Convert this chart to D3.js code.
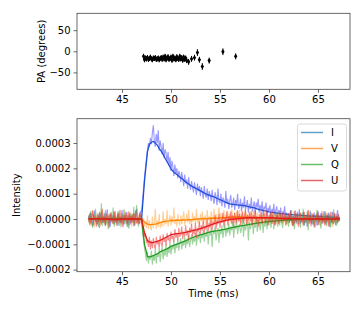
<!DOCTYPE html>
<html><head><meta charset="utf-8">
<script src="https://cdn.jsdelivr.net/npm/d3@7"></script>
<style>body{margin:0;background:#fff}svg{display:block}text{font-family:"DejaVu Sans",sans-serif}</style>
</head><body><svg id="c" width="364" height="312"></svg>
<script>
// ---------- DATA ----------
const seriesNames = ["I", "V", "Q", "U"];
const xTicks = [45, 50, 55, 60, 65];
const paTicks = [-50, 0, 50];
const intTicks = [-200, -100, 0, 100, 200, 300]; // units of 1e-6
const intTickLabels = ["\u22120.0002", "\u22120.0001", "0.0000", "0.0001", "0.0002", "0.0003"];

// PA points (ms, degrees, error)
const paTime = [47.2,47.3,47.4,47.5,47.6,47.7,47.8,47.9,48.0,48.1,48.2,48.3,48.4,48.5,48.6,48.7,48.8,48.9,49.0,49.1,49.2,49.3,49.4,49.5,49.6,49.7,49.8,49.9,50.0,50.1,50.2,50.3,50.4,50.5,50.6,50.7,50.8,50.9,51.0,51.1,51.2,51.3,51.4,51.5,51.6,
  51.8,52.1,52.4,52.7,52.9,53.2,53.9,55.3,56.6];
const paValue = [-12,-20,-16,-18,-15,-19,-17,-14,-18,-20,-16,-17,-15,-19,-18,-16,-20,-17,-15,-19,-14,-18,-12,-20,-16,-13,-19,-17,-14,-21,-12,-18,-16,-20,-13,-17,-19,-12,-18,-15,-21,-14,-19,-16,-22,
  -25,-18,-15,-3,-20,-36,-22,-1,-12];
const paErr = [6,6,6,6,6,6,6,6,6,6,6,6,6,6,6,6,6,6,6,6,6,6,6,6,6,6,6,6,6,6,6,6,6,6,6,6,6,6,6,6,6,6,6,6,6,
  7,7,7,8,7,8,7,8,7];

// raw traces: sampled every 0.1 ms from 41.6 ms (units 1e-6)
const rawStart = 41.6, rawStep = 0.1;
const rawI = [
  12,-18,25,-6,-28,15,33,-10,4,-22, 18,-35,8,27,-14,-3,22,-25,10,38, -16,5,-30,20,-8,14,-20,30,-12,2,
  25,-27,9,-15,35,-5,-22,16,-10,28, -32,6,19,-18,11,-7,24,-26,14,40, -12,8,-20,30,
  30,75,120,165,205,240,275,300,285,320, 295,340,370,310,285,335,300,350,270,310,
  285,255,300,240,275,260,225,265,210,245, 190,230,205,170,215,180,200,160,190,175,
  145,185,160,130,175,140,155,120,165,135, 115,150,125,105,145,120,95,140,110,130,
  90,125,105,80,130,95,85,120,75,110, 95,70,115,80,60,105,90,55,120,70,
  65,100,50,85,75,45,110,60,80,40, 70,95,45,60,85,35,75,55,100,40,
  50,80,30,65,45,90,35,55,75,25, 60,40,85,30,50,70,20,65,45,80,
  25,55,35,70,15,50,40,65,10,45, 30,55,5,40,25,60,10,35,50,0, 35,15,45,-5,30,20,50,5,25,-10,
  22,-15,35,-8,12,-28,30,4,-18,25, -5,38,-20,10,-12,28,-25,15,6,-30, 20,-10,33,-16,8,-22,26,-4,14,-26,
  32,-12,5,22,-18,10,-8,30,-22,16, -2,25,-30,12,-14,28,-6,18,-24,10, 35,-10,5];
const rawV = [
  -14,20,-25,6,30,-10,-32,15,-5,24, -18,10,-28,35,-8,12,-20,26,-12,4, -30,18,-6,22,-16,8,28,-24,14,-2,
  -20,30,-10,5,-26,16,-14,34,-8,20, -22,10,-4,26,-30,12,-16,22,-6,-20, 18,-10,25,-15,
  -5,-20,5,-30,-10,-35,15,-40,-5,-30, -45,10,-35,-15,40,-40,-5,-30,20,-35,
  -10,-30,30,-25,0,-20,35,-30,-5,15, -25,10,-15,45,-20,0,-30,20,-10,-25,
  15,-20,5,30,-25,-5,20,-15,35,-20, 0,-25,25,-10,10,-20,40,-15,5,-25,
  20,-10,30,-20,0,15,-25,35,-5,10, -20,30,5,-15,40,-10,20,-25,15,45,
  -5,25,-15,10,35,-20,15,0,30,-10, 20,-15,40,5,-10,25,-20,30,10,-5,
  35,-15,15,25,-20,10,40,-5,20,-25, 15,30,-10,5,35,-20,20,-5,25,-15,
  10,-25,30,0,20,-10,35,-20,15,5, -15,25,-5,30,-20,10,20,-25,15,-5, 25,-15,5,30,-20,10,-10,20,-25,15,
  -18,25,-6,14,-28,10,30,-12,4,-22, 18,-8,26,-16,6,-30,20,-4,12,-24, 32,-10,8,-18,22,-6,-26,14,-12,28,
  -20,6,16,-28,10,-4,24,-16,30,-10, 2,-22,18,-8,26,-30,12,-14,20,-6, -18,10,4];
const rawQ = [
  15,-25,30,-10,-35,20,-5,40,-20,8, -30,25,-12,62,-28,10,-15,35,-22,4, -40,18,-8,28,-18,45,-30,12,-5,-25,
  30,-15,8,-32,22,-10,38,-20,5,-28, 15,-38,25,-6,20,-15,48,-22,10,55, -12,-30,20,8,
  -15,-50,-85,-115,-140,-165,-130,-175,-145,-160, -125,-180,-140,-165,-120,-175,-135,-150,-115,-170,
  -130,-110,-160,-125,-145,-100,-150,-115,-135,-95, -140,-105,-120,-85,-135,-100,-115,-80,-125,-95,
  -75,-120,-90,-105,-70,-115,-80,-100,-65,-110, -85,-60,-100,-70,-90,-55,-105,-65,-80,-50,
  -95,-60,-75,-45,-90,-55,-70,-40,-100,-50, -65,-35,-110,-45,-60,-30,-85,-50,-35,-95,
  -40,-60,-25,-75,-45,-20,-70,-35,-55,-15, -65,-30,-45,-10,-75,-25,-40,-5,-60,-30,
  -20,-55,-35,0,-70,-15,-45,-25,-5,-85, -10,-40,-25,5,-60,-15,-35,10,-50,-20,
  -5,-45,-20,15,-55,-10,-30,10,-40,-5, -25,20,-35,-5,15,-40,0,-20,25,-30, 5,-25,20,-10,-35,15,-5,25,-20,0,
  -30,20,-8,35,-22,10,-40,15,-12,28, -18,5,-35,22,-4,40,-25,8,-15,30, -45,12,-6,26,-20,18,-32,6,-10,36,
  -24,14,-2,-38,20,-12,30,-16,8,-28, 24,-8,16,-34,10,-20,38,-14,4,-26, 18,-10,6];
const rawU = [
  -10,22,-18,8,35,-25,12,-5,-30,18, -12,28,-6,-22,40,-15,10,-28,20,-4, 14,-35,25,-10,6,-20,30,-14,2,-26,
  22,-8,36,-18,10,-32,16,-2,26,-20, -6,30,-24,12,-14,20,-28,8,34,-16, 4,-20,25,10,
  5,-20,-45,-70,-55,-95,-80,-110,-70,-120, -85,-115,-75,-105,-120,-70,-100,-85,-115,-65,
  -95,-110,-60,-90,-75,-105,-55,-85,-70,-95, -50,-80,-65,-90,-40,-75,-55,-85,-35,-70,
  -60,-30,-80,-50,-70,-25,-65,-45,-85,-35, -55,-20,-70,-40,-60,-15,-75,-35,-50,-10,
  -60,-25,-45,-5,-55,-30,-40,0,-50,-15, -35,5,-45,-10,-25,15,-40,-5,-20,20,
  -35,0,-15,25,-30,5,-10,30,-25,10, -5,30,-20,15,-30,25,0,-15,35,-10,
  20,-25,10,30,-15,5,35,-20,15,-5, 25,-10,30,-25,15,0,35,-15,10,-30,
  20,-5,30,-20,10,25,-15,5,35,-25, 15,-10,25,-20,30,0,-25,20,-5,15, -20,30,5,-15,25,-10,20,-25,10,-5,
  22,-14,30,-6,-26,12,-18,34,-8,16, -30,8,24,-12,4,-22,28,-16,10,-4, 36,-20,14,-28,6,20,-10,-34,18,-2,
  26,-24,12,-8,30,-18,4,-26,22,-12, 16,-30,8,28,-14,2,-20,24,-6,12, -16,20,-8];

// smoothed traces (units 1e-6)
const smoothTime = [41.6,43,44.5,46,
  47.0,47.3,47.6,47.8,48.0,48.2,48.4,48.6,48.8,49.0,
  49.2,49.4,49.6,49.8,50.0,50.3,50.6,50.9,51.2,51.5,
  51.8,52.1,52.4,52.7,53,53.3,53.6,54,54.4,54.8,
  55.2,55.6,56,56.5,57,57.5,58,58.5,59,59.5,
  60,60.5,61,61.5,62,63,64,65,66,67.2];
const smoothI = [1,-2,2,0,
  0,150,265,295,303,306,300,292,278,268,
  255,240,226,212,198,185,176,166,157,146,
  138,130,124,118,111,105,98,92,87,80,
  73,66,60,57,55,53,48,44,37,33,
  28,25,22,20,18,15,12,10,8,5];
const smoothV = [0,2,-1,0,
  0,-12,-20,-22,-22,-21,-20,-18,-15,-13,
  -10,-9,-8,-7,-5,-6,-4,-5,-3,-4,
  -2,-3,-1,0,0,2,1,3,4,3,
  6,5,7,8,8,7,6,6,5,4,
  4,3,2,1,0,1,0,1,0,0];
const smoothQ = [-1,2,0,1,
  0,-100,-148,-150,-147,-145,-141,-138,-132,-128,
  -125,-121,-118,-113,-108,-104,-99,-95,-90,-86,
  -80,-75,-70,-67,-63,-60,-56,-51,-48,-46,
  -43,-40,-36,-32,-28,-25,-21,-18,-15,-12,
  -10,-8,-6,-4,-3,-1,0,1,0,0];
const smoothU = [1,0,-2,1,
  0,-55,-85,-90,-93,-92,-90,-88,-85,-82,
  -78,-74,-70,-66,-62,-60,-58,-57,-55,-53,
  -50,-47,-44,-42,-38,-34,-30,-24,-18,-13,
  -9,-5,-2,0,2,4,5,5,5,5,
  5,4,3,2,2,1,0,1,0,0];

// ---------- STYLE ----------
const legendColors = ["#1f77b4", "#ff7f0e", "#2ca02c", "#d62728"];
const rawColors = ["#4d4dff", "#ff9f30", "#3aa83a", "#ee3030"];
const rawOpacity = [0.58, 0.5, 0.5, 0.55];
const smoothColors = ["#1f4fd4", "#ff8800", "#1f9a1f", "#e41c1c"];

const svg = d3.select("#c");
const L = 77, R = 350;
const x = d3.scaleLinear().domain([40.41, 68.27]).range([L, R]);
const yPA = d3.scaleLinear().domain([-90, 90]).range([89.3, 13.3]);
const yI = d3.scaleLinear().domain([-208, 396]).range([271.7, 118.7]);
const spine = "#444";

function drawAxes(y, top, bottom, yt, ylabels) {
  const gx = svg.append("g").attr("transform", `translate(0,${bottom})`)
    .call(d3.axisBottom(x).tickValues(xTicks).tickSize(3.5).tickPadding(3).tickFormat(d3.format("d")));
  const gy = svg.append("g").attr("transform", `translate(${L},0)`)
    .call(d3.axisLeft(y).tickValues(yt).tickSize(3.5).tickPadding(3).tickFormat((d, i) => ylabels[i]));
  [gx, gy].forEach(g => {
    g.select(".domain").remove();
    g.selectAll("line").attr("stroke", spine).attr("stroke-width", 0.8);
    g.selectAll("text").attr("font-size", 10).attr("fill", "#000").attr("font-family", "DejaVu Sans");
  });
  svg.append("rect").attr("x", L).attr("y", top).attr("width", R - L).attr("height", bottom - top)
    .attr("fill", "none").attr("stroke", spine).attr("stroke-width", 0.8);
}

// ---------- TOP PANEL ----------
drawAxes(yPA, 13.3, 89.3, paTicks, paTicks.map(v => v < 0 ? "\u2212" + Math.abs(v) : String(v)));
const pa = paTime.map((t, i) => ({t, v: paValue[i], e: paErr[i]}));
const gpa = svg.append("g");
gpa.selectAll("line.err").data(pa).join("line")
  .attr("x1", d => x(d.t)).attr("x2", d => x(d.t))
  .attr("y1", d => yPA(d.v - d.e)).attr("y2", d => yPA(d.v + d.e))
  .attr("stroke", "#000").attr("stroke-width", 1);
gpa.selectAll("path.m").data(pa).join("path")
  .attr("d", d => { const cx = x(d.t), cy = yPA(d.v); return `M${cx},${cy-2.6}L${cx+1.7},${cy}L${cx},${cy+2.6}L${cx-1.7},${cy}Z`; })
  .attr("fill", "#000");
svg.append("text").attr("transform", "translate(41,51.3) rotate(-90)").attr("text-anchor", "middle")
  .attr("dominant-baseline", "central").attr("font-size", 10).text("PA (degrees)");

// ---------- BOTTOM PANEL ----------
drawAxes(yI, 118.7, 271.7, intTicks, intTickLabels);
svg.append("clipPath").attr("id", "clipB").append("rect")
  .attr("x", L).attr("y", 118.7).attr("width", R - L).attr("height", 271.7 - 118.7);
const gp = svg.append("g").attr("clip-path", "url(#clipB)");
const raws = [rawI, rawV, rawQ, rawU];
const smooths = [smoothI, smoothV, smoothQ, smoothU];
const lineRaw = d3.line().x((d, i) => x(rawStart + rawStep * i)).y(d => yI(d));
const lineSm = d3.line().x((d, i) => x(smoothTime[i])).y(d => yI(d));
seriesNames.forEach((n, k) => {
  gp.append("path").attr("d", lineRaw(raws[k])).attr("fill", "none")
    .attr("stroke", rawColors[k]).attr("stroke-opacity", rawOpacity[k]).attr("stroke-width", 1.1);
  gp.append("path").attr("d", lineSm(smooths[k])).attr("fill", "none")
    .attr("stroke", smoothColors[k]).attr("stroke-width", 1.3);
});

svg.append("text").attr("x", 213.5).attr("y", 293.5).attr("text-anchor", "middle")
  .attr("dominant-baseline", "central").attr("font-size", 10).text("Time (ms)");
svg.append("text").attr("transform", "translate(16.5,195.2) rotate(-90)").attr("text-anchor", "middle")
  .attr("dominant-baseline", "central").attr("font-size", 10).text("Intensity");

// legend
const lg = svg.append("g");
lg.append("rect").attr("x", 297.5).attr("y", 124).attr("width", 49).attr("height", 67).attr("rx", 2.5)
  .attr("fill", "#fff").attr("fill-opacity", 0.85).attr("stroke", "#d0d0d0").attr("stroke-width", 0.8);
seriesNames.forEach((n, k) => {
  const yy = 132.5 + k * 16;
  lg.append("line").attr("x1", 301).attr("x2", 323).attr("y1", yy).attr("y2", yy)
    .attr("stroke", legendColors[k]).attr("stroke-opacity", 0.7).attr("stroke-width", 1.5);
  lg.append("text").attr("x", 331).attr("y", yy).attr("dominant-baseline", "central")
    .attr("font-size", 10).text(n);
});
</script></body></html>
